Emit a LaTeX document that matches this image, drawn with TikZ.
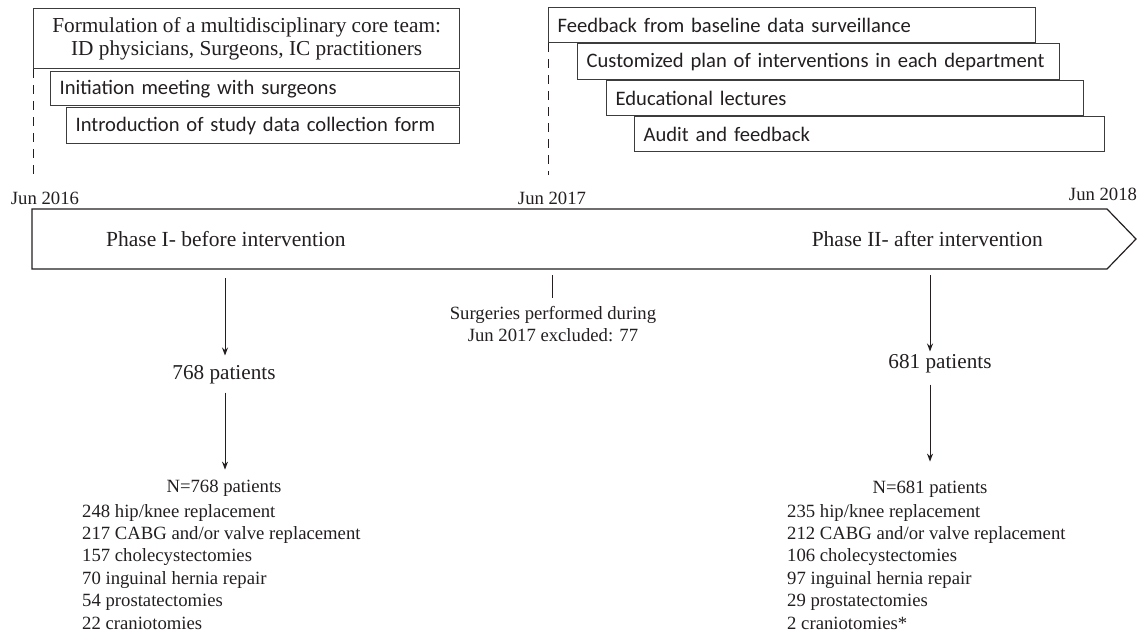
\documentclass[tikz,border=0pt]{standalone}
\usepackage{fontspec}
\setmainfont{Liberation Serif}
\newfontfamily\calfont{Carlito}
\newfontfamily\timesfont{Liberation Serif}
\usetikzlibrary{arrows.meta}
\definecolor{ink}{RGB}{35,31,32}
\definecolor{boxline}{RGB}{60,60,60}
\newcommand\sanssz{\calfont\fontsize{20.6}{25}\selectfont\hyphenpenalty=10000 }
\newcommand\serifsm{\timesfont\fontsize{18.7}{22.4}\selectfont}
\newcommand\serifmd{\timesfont\fontsize{21.2}{22.4}\selectfont}
\newcommand\serifbox{\timesfont\fontsize{21.3}{22.5}\selectfont}
\begin{document}
\begin{tikzpicture}[x=1pt,y=-1pt,
  every node/.style={text=ink},
  sbox/.style={draw=boxline, line width=1.3pt, fill=white, anchor=north west,
    inner xsep=9pt, inner ysep=0pt, align=left, font=\sanssz},
  rbox/.style={draw=boxline, line width=1.3pt, fill=white, anchor=north west,
    inner xsep=9pt, inner ysep=0pt, align=center, font=\serifbox},
  dashline/.style={draw=ink, line width=0.9pt, dash pattern=on 9pt off 7pt},
  mainshape/.style={draw=ink, line width=1.2pt},
  datelbl/.style={font=\serifsm, inner sep=0pt},
  phaselbl/.style={font=\timesfont\fontsize{21.5}{24}\selectfont, inner sep=0pt},
  patlbl/.style={font=\serifmd, inner sep=0pt},
  smalltxt/.style={font=\serifsm, inner sep=0pt, align=center},
  listtxt/.style={font=\serifsm, inner sep=0pt, align=left, anchor=north west},
  arr/.style={draw=ink, line width=1pt, -{Stealth[length=8pt,width=6pt]}},
  tick/.style={draw=ink, line width=1pt}]
\useasboundingbox (0,0) rectangle (1143,635);

% left top boxes
\node[rbox, minimum width=426pt, minimum height=60pt] (b1) at (33,8)
  {\timesfont Formulation of a multidisciplinary core team:\\\timesfont ID physicians, Surgeons, IC practitioners};
\node[sbox, minimum width=409pt, minimum height=34pt, text width=391pt] (b2) at (50,71)
  {Initiation meeting with surgeons};
\node[sbox, minimum width=393pt, minimum height=36pt, text width=375pt] (b3) at (66,107)
  {Introduction of study data collection form};

% right top boxes
\node[sbox, minimum width=487pt, minimum height=35pt, text width=469pt] (bA) at (548,7)
  {Feedback from baseline data surveillance};
\node[sbox, minimum width=482pt, minimum height=36pt, text width=464pt] (bB) at (577,43)
  {Customized plan of interventions in each department};
\node[sbox, minimum width=477pt, minimum height=35pt, text width=459pt] (bC) at (606,80)
  {Educational lectures};
\node[sbox, minimum width=470pt, minimum height=35pt, text width=452pt] (bD) at (634,116)
  {Audit and feedback};

% dashed markers
\coordinate (d1) at (33,179);
\coordinate (d2) at (549,175);
\draw[dashline] (b1.south west) -- (b1.south west |- d1);
\draw[dashline] (bA.south west) -- (bA.south west |- d2);

% dates
\node[datelbl] (j16) at (45,198) {Jun 2016};
\node[datelbl] (j17) at (552,198) {Jun 2017};
\node[datelbl] (j18) at (1103,194) {Jun 2018};

% timeline arrow
\draw[mainshape] (32,209) -- (1107,209) -- (1136,239) -- (1107,269) -- (32,269) -- cycle;
\node[phaselbl, anchor=west] (ph1) at (106,239) {Phase I- before intervention};
\node[phaselbl, anchor=east] (ph2) at (1043,239) {Phase II- after intervention};

% left branch
\coordinate (a1) at (225,278);
\node[patlbl] (p1) at (224,375) {768 patients};
\node[smalltxt] (n1) at (224,488) {N=768 patients};
\draw[arr, shorten >=10pt] (a1) -- (a1 |- p1.north);
\draw[arr, shorten <=8pt, shorten >=10pt] (a1 |- p1.south) -- (a1 |- n1.north);
\node[listtxt] (l1) at (82,504) {248 hip/knee replacement\\217 CABG and/or valve replacement\\157 cholecystectomies\\70 inguinal hernia repair\\54 prostatectomies\\22 craniotomies};

% middle
\coordinate (a2) at (552,275);
\node[smalltxt, font=\timesfont\fontsize{18.7}{22}\selectfont] (ex) at (553,324) {Surgeries performed during\\Jun 2017 excluded: 77};
\draw[tick, shorten >=8pt] (a2) -- (a2 |- ex.north);

% right branch
\coordinate (a3) at (930,275);
\node[patlbl] (p2) at (940,364) {681 patients};
\node[smalltxt] (n2) at (930,489) {N=681 patients};
\draw[arr, shorten >=3pt] (a3) -- (a3 |- p2.north);
\draw[arr, shorten <=11pt, shorten >=19pt] (a3 |- p2.south) -- (a3 |- n2.north);
\node[listtxt] (l2) at (787,504) {235 hip/knee replacement\\212 CABG and/or valve replacement\\106 cholecystectomies\\97 inguinal hernia repair\\29 prostatectomies\\2 craniotomies*};
\end{tikzpicture}
\end{document}
